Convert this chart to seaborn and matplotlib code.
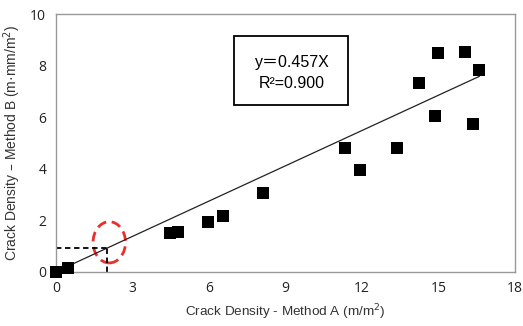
import matplotlib
matplotlib.use("Agg")
import matplotlib.pyplot as plt
from matplotlib.patches import Ellipse, Rectangle
import seaborn as sns
import pandas as pd
import numpy as np

# data
method_a = [0.0, 0.46, 4.47, 4.77, 5.97, 6.54, 8.13, 11.33, 11.92, 13.38,
            14.24, 14.84, 14.97, 16.05, 16.36, 16.6]
method_b = [0.0, 0.16, 1.51, 1.53, 1.94, 2.16, 3.07, 4.80, 3.95, 4.81,
            7.31, 6.05, 8.50, 8.53, 5.72, 7.84]
slope = 0.457
r2 = 0.900
fit_x = [0.5, 16.6]
guide_x = 2.0
x_ticks = [0, 3, 6, 9, 12, 15, 18]
y_ticks = [0, 2, 4, 6, 8, 10]

df = pd.DataFrame({"A": method_a, "B": method_b})
fit_df = pd.DataFrame({"x": fit_x, "y": [slope * v for v in fit_x]})

sns.set_theme(style="white")
plt.rcParams['font.family'] = ['Liberation Sans', 'Noto Sans CJK SC', 'DejaVu Sans']

fig = plt.figure(figsize=(5.23, 3.26), dpi=100)
ax = fig.add_axes([0.107, 0.1666, 0.878, 0.790])

sns.lineplot(data=fit_df, x="x", y="y", ax=ax, color="#222222", linewidth=0.9)
sns.scatterplot(data=df, x="A", y="B", ax=ax, marker="s", s=80, color="black",
                edgecolor="black", linewidth=0, zorder=3, clip_on=False)

gy = slope * guide_x
ax.plot([0, guide_x], [gy, gy], linestyle=(0, (3, 2)), color="black", linewidth=1.3)
ax.plot([guide_x, guide_x], [0, gy], linestyle=(0, (3, 2)), color="black", linewidth=1.3)

ell = Ellipse((2.09, 1.14), width=1.27, height=1.6, fill=False, edgecolor="#e8302a",
              linewidth=2.0, linestyle=(0, (3.5, 2)))
ax.add_patch(ell)

ax.set_xlim(0, 18)
ax.set_ylim(0, 10)
ax.set_xticks(x_ticks)
ax.set_yticks(y_ticks)
ax.tick_params(axis="both", which="both", direction="out", length=3, width=0.8,
               color="#999999", labelsize=10, labelcolor="#222222", pad=4)
for lab in ax.get_xticklabels() + ax.get_yticklabels():
    lab.set_family(['Open Sans', 'DejaVu Sans'])
for sp in ax.spines.values():
    sp.set_color("#999999")
    sp.set_linewidth(1.0)

ax.set_xlabel("Crack Density - Method A (m/m$^2$)", fontsize=9.7, color="#333333", labelpad=4)
ax.set_ylabel("Crack Density \u2013 Method B (m\u00b7mm/m$^2$)", fontsize=10, color="#333333", labelpad=5)

box = Rectangle((6.98, 6.47), 4.47, 2.68, fill=True, facecolor="white",
                edgecolor="black", linewidth=1.3, zorder=4)
ax.add_patch(box)
ax.text(9.25, 8.14, "y\uff1d%.3fX" % slope, fontsize=11.5, ha="center", va="center",
        color="black", zorder=5, family=['Liberation Sans', 'Noto Sans CJK SC', 'DejaVu Sans'])
ax.text(9.25, 7.32, "R\u00b2=%.3f" % r2, fontsize=11.5, ha="center", va="center",
        color="black", zorder=5, family=['Liberation Sans', 'Noto Sans CJK SC', 'DejaVu Sans'])

fig.savefig("out.png", dpi=100)
